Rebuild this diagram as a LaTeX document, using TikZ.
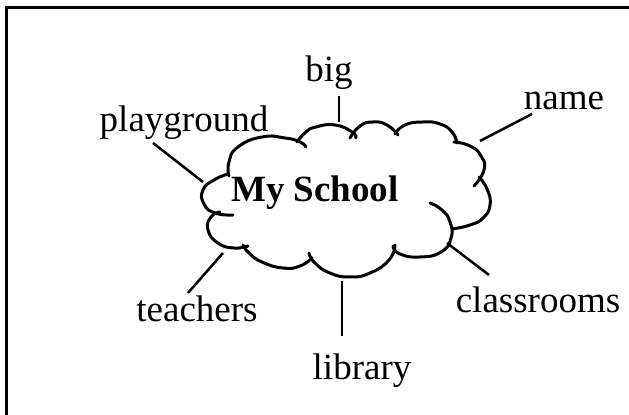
\documentclass[tikz,border=0pt]{standalone}
\usepackage{fontspec}
\setmainfont{Liberation Serif}
\begin{document}
\begin{tikzpicture}[x=0.5pt,y=-0.5pt,
  lbl/.style={anchor=base,inner sep=0pt,font=\fontsize{18.5}{20}\selectfont},
  cloudline/.style={line width=1.5pt,line cap=round},
  conn/.style={line width=1.25pt}]
\useasboundingbox (0,0) rectangle (629,415);
% frame
\draw[line width=1.5pt] (7,415) -- (7,8) -- (629,8);
% cloud
\draw[cloudline] plot[smooth,tension=0.9] coordinates {(229,176) (229,162) (238,147) (262,137) (285,138) (300,142) (306,147)};
\draw[cloudline] plot[smooth,tension=0.9] coordinates {(297,142) (306,132) (316,127) (335,125) (352,132) (356,138)};
\draw[cloudline] plot[smooth,tension=0.9] coordinates {(350,138) (360,126) (373,122) (387,125) (398,135)};
\draw[cloudline] plot[smooth,tension=0.9] coordinates {(395,134) (405,125) (423,122) (440,124) (452,132) (457,143)};
\draw[cloudline] plot[smooth,tension=0.9] coordinates {(454,142) (470,146) (481,156) (484,170) (474,186)};
\draw[cloudline] plot[smooth,tension=0.9] coordinates {(479,177) (487,189) (490,205) (483,218) (470,225) (452,229)};
\draw[cloudline] plot[smooth,tension=0.9] coordinates {(430,203) (442,210) (450,222) (451,238) (441,252) (420,257) (400,254) (393,246)};
\draw[cloudline] plot[smooth,tension=0.9] coordinates {(395,245) (389,260) (370,273) (350,277) (330,273) (315,263) (309,253)};
\draw[cloudline] plot[smooth,tension=0.9] coordinates {(312,258) (300,266) (283,268) (262,262) (249,253) (243,245)};
\draw[cloudline] plot[smooth,tension=0.9] coordinates {(248,246) (234,248) (218,243) (208,230) (211,217) (220,212)};
\draw[cloudline] plot[smooth,tension=0.9] coordinates {(233,215) (215,213) (204,204) (203,190) (214,180) (228,174)};
\node[lbl,font=\fontsize{18.5}{20}\selectfont\bfseries] (center) at (315,202) {My School};
% labels
\node[lbl] (playground) at (184,132) {playground};
\node[lbl] (big) at (329,82) {big};
\node[lbl] (name) at (564,110) {name};
\node[lbl] (teachers) at (197,322) {teachers};
\node[lbl] (library) at (362,380) {library};
\node[lbl] (classrooms) at (538,313) {classrooms};
% connector ends
\coordinate (pgA) at (153,143); \coordinate (pgB) at (203,182);
\coordinate (bgA) at (339,96);  \coordinate (bgB) at (339,122);
\coordinate (nmA) at (532,114); \coordinate (nmB) at (480,141);
\coordinate (tcA) at (188,293); \coordinate (tcB) at (223,253);
\coordinate (lbA) at (342,336); \coordinate (lbB) at (342,281);
\coordinate (clA) at (489,275); \coordinate (clB) at (447,243);
\draw[conn] (pgA) -- (pgB);
\draw[conn] (bgA) -- (bgB);
\draw[conn] (nmA) -- (nmB);
\draw[conn] (tcA) -- (tcB);
\draw[conn] (lbA) -- (lbB);
\draw[conn] (clA) -- (clB);
\end{tikzpicture}
\end{document}
